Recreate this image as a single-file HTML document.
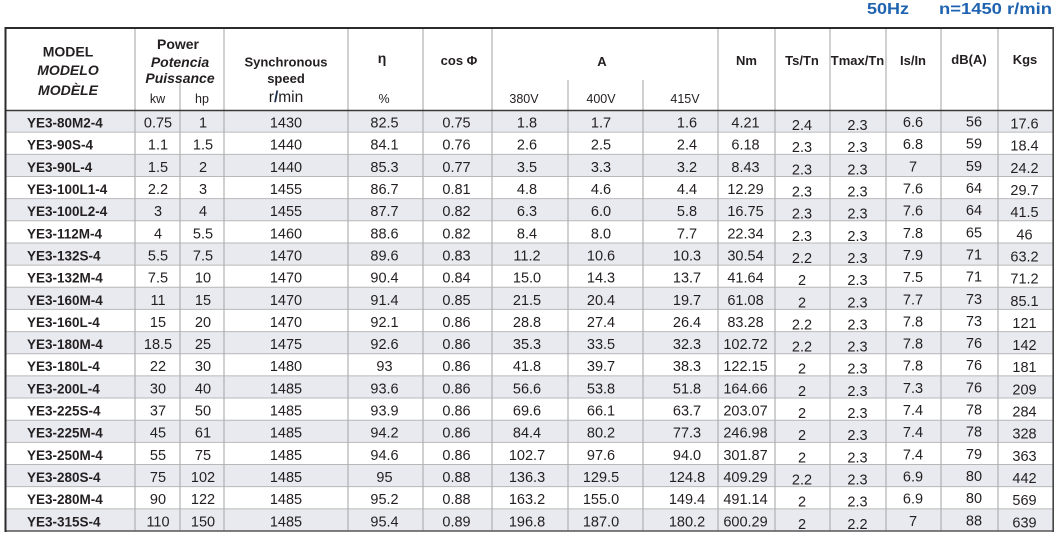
<!DOCTYPE html>
<html><head><meta charset="utf-8"><style>
html,body{margin:0;padding:0;background:#fff;}
svg{display:block;}
text{font-family:"Liberation Sans",sans-serif;fill:#231f20;}
.h{font-weight:bold;font-size:13px;text-anchor:middle;}
.hi{font-weight:bold;font-style:italic;font-size:14px;text-anchor:middle;}
.s{font-size:12.5px;text-anchor:middle;}
.d text{font-size:14.5px;text-anchor:middle;}
.d text.m{font-weight:bold;font-size:13.5px;text-anchor:start;}
.t{font-weight:bold;font-size:16px;fill:#1f63b0;}
</style></head><body>
<svg width="1064" height="540" viewBox="0 0 1064 540" xmlns="http://www.w3.org/2000/svg">
<rect width="1064" height="540" fill="#fff"/>
<text class="t" x="867" y="14" textLength="42" lengthAdjust="spacingAndGlyphs">50Hz</text>
<text class="t" x="939" y="14" textLength="113" lengthAdjust="spacingAndGlyphs">n=1450 r/min</text>

<!-- bands -->
<g fill="#e8eaf0">
<rect x="5" y="110" width="1048" height="22.16"/>
<rect x="5" y="154.32" width="1048" height="22.16"/>
<rect x="5" y="198.63" width="1048" height="22.16"/>
<rect x="5" y="242.95" width="1048" height="22.16"/>
<rect x="5" y="287.26" width="1048" height="22.16"/>
<rect x="5" y="331.58" width="1048" height="22.16"/>
<rect x="5" y="375.89" width="1048" height="22.16"/>
<rect x="5" y="420.21" width="1048" height="22.16"/>
<rect x="5" y="464.53" width="1048" height="22.16"/>
<rect x="5" y="508.84" width="1048" height="22.16"/>
</g>

<!-- row separators -->
<g stroke="#b8b8b8" stroke-width="1">
<line x1="5" x2="1053" y1="132.16" y2="132.16"/>
<line x1="5" x2="1053" y1="154.32" y2="154.32"/>
<line x1="5" x2="1053" y1="176.47" y2="176.47"/>
<line x1="5" x2="1053" y1="198.63" y2="198.63"/>
<line x1="5" x2="1053" y1="220.79" y2="220.79"/>
<line x1="5" x2="1053" y1="242.95" y2="242.95"/>
<line x1="5" x2="1053" y1="265.11" y2="265.11"/>
<line x1="5" x2="1053" y1="287.26" y2="287.26"/>
<line x1="5" x2="1053" y1="309.42" y2="309.42"/>
<line x1="5" x2="1053" y1="331.58" y2="331.58"/>
<line x1="5" x2="1053" y1="353.74" y2="353.74"/>
<line x1="5" x2="1053" y1="375.89" y2="375.89"/>
<line x1="5" x2="1053" y1="398.05" y2="398.05"/>
<line x1="5" x2="1053" y1="420.21" y2="420.21"/>
<line x1="5" x2="1053" y1="442.37" y2="442.37"/>
<line x1="5" x2="1053" y1="464.53" y2="464.53"/>
<line x1="5" x2="1053" y1="486.68" y2="486.68"/>
<line x1="5" x2="1053" y1="508.84" y2="508.84"/>
</g>

<!-- vertical lines -->
<g stroke="#b0b0b0" stroke-width="1.2">
<line x1="135" x2="135" y1="27" y2="531"/>
<line x1="224" x2="224" y1="27" y2="531"/>
<line x1="348" x2="348" y1="27" y2="531"/>
<line x1="423" x2="423" y1="27" y2="531"/>
<line x1="492" x2="492" y1="27" y2="531"/>
<line x1="718" x2="718" y1="27" y2="531"/>
<line x1="775" x2="775" y1="27" y2="531"/>
<line x1="830" x2="830" y1="27" y2="531"/>
<line x1="886" x2="886" y1="27" y2="531"/>
<line x1="941" x2="941" y1="27" y2="531"/>
<line x1="998" x2="998" y1="27" y2="531"/>
<line x1="180" x2="180" y1="82" y2="531"/>
<line x1="568" x2="568" y1="80" y2="531"/>
<line x1="643" x2="643" y1="80" y2="531"/>
</g>

<!-- borders -->
<line x1="5" x2="1054" y1="28" y2="28" stroke="#2b2b2b" stroke-width="2"/>
<line x1="5" x2="1054" y1="110.5" y2="110.5" stroke="#3a3a3a" stroke-width="1.5"/>
<line x1="5" x2="1054" y1="531" y2="531" stroke="#555" stroke-width="1.5"/>
<line x1="5.5" x2="5.5" y1="27" y2="532" stroke="#2b2b2b" stroke-width="2"/>
<line x1="1053.2" x2="1053.2" y1="27" y2="532" stroke="#444" stroke-width="1.6"/>

<!-- header -->
<text class="h" style="font-size:14px" x="68" y="56.5">MODEL</text>
<text class="hi" x="68" y="75">MODELO</text>
<text class="hi" x="68" y="95">MODÈLE</text>
<text class="h" style="font-size:14px" x="178" y="49">Power</text>
<text class="hi" x="180" y="67">Potencia</text>
<text class="hi" x="180" y="83">Puissance</text>
<text class="s" x="157.5" y="103">kw</text>
<text class="s" x="202" y="103">hp</text>
<text class="h" x="286" y="66.5">Synchronous</text>
<text class="h" x="286" y="83">speed</text>
<text x="286" y="102" style="font-size:15.5px;text-anchor:middle;">r<tspan style="fill:#1b2a4a;font-weight:bold">/</tspan>min</text>
<text class="h" style="font-size:14px" x="382" y="63">η</text>
<text class="h" x="459" y="65">cos Φ</text>
<text class="h" x="602" y="66">A</text>
<text class="s" x="384" y="103">%</text>
<text class="s" x="524" y="103">380V</text>
<text class="s" x="601" y="103">400V</text>
<text class="s" x="685" y="103">415V</text>
<text class="h" x="746.5" y="65">Nm</text>
<text class="h" x="802" y="65">Ts/Tn</text>
<text class="h" x="857.5" y="65">Tmax/Tn</text>
<text class="h" x="913" y="65">Is/In</text>
<text class="h" x="969" y="64">dB(A)</text>
<text class="h" x="1025" y="64">Kgs</text>

<!-- rows -->
<g class="d" transform="translate(0,110)">
<text class="m" x="27" y="17.5">YE3-80M2-4</text><text x="158" y="17.5">0.75</text><text x="203" y="17.5">1</text><text x="286" y="17.5">1430</text><text x="384.5" y="17.5">82.5</text><text x="456.5" y="17.5">0.75</text><text x="527" y="17.5">1.8</text><text x="601" y="17.5">1.7</text><text x="687" y="17.5">1.6</text><text x="745.5" y="17.5">4.21</text><text x="802" y="20">2.4</text><text x="857.5" y="20">2.3</text><text x="913" y="17">6.6</text><text x="974" y="16.5">56</text><text x="1024.5" y="18.5">17.6</text>
</g>
<g class="d" transform="translate(0,132.16)">
<text class="m" x="27" y="17.5">YE3-90S-4</text><text x="158" y="17.5">1.1</text><text x="203" y="17.5">1.5</text><text x="286" y="17.5">1440</text><text x="384.5" y="17.5">84.1</text><text x="456.5" y="17.5">0.76</text><text x="527" y="17.5">2.6</text><text x="601" y="17.5">2.5</text><text x="687" y="17.5">2.4</text><text x="745.5" y="17.5">6.18</text><text x="802" y="20">2.3</text><text x="857.5" y="20">2.3</text><text x="913" y="17">6.8</text><text x="974" y="16.5">59</text><text x="1024.5" y="18.5">18.4</text>
</g>
<g class="d" transform="translate(0,154.32)">
<text class="m" x="27" y="17.5">YE3-90L-4</text><text x="158" y="17.5">1.5</text><text x="203" y="17.5">2</text><text x="286" y="17.5">1440</text><text x="384.5" y="17.5">85.3</text><text x="456.5" y="17.5">0.77</text><text x="527" y="17.5">3.5</text><text x="601" y="17.5">3.3</text><text x="687" y="17.5">3.2</text><text x="745.5" y="17.5">8.43</text><text x="802" y="20">2.3</text><text x="857.5" y="20">2.3</text><text x="913" y="17">7</text><text x="974" y="16.5">59</text><text x="1024.5" y="18.5">24.2</text>
</g>
<g class="d" transform="translate(0,176.47)">
<text class="m" x="27" y="17.5">YE3-100L1-4</text><text x="158" y="17.5">2.2</text><text x="203" y="17.5">3</text><text x="286" y="17.5">1455</text><text x="384.5" y="17.5">86.7</text><text x="456.5" y="17.5">0.81</text><text x="527" y="17.5">4.8</text><text x="601" y="17.5">4.6</text><text x="687" y="17.5">4.4</text><text x="745.5" y="17.5">12.29</text><text x="802" y="20">2.3</text><text x="857.5" y="20">2.3</text><text x="913" y="17">7.6</text><text x="974" y="16.5">64</text><text x="1024.5" y="18.5">29.7</text>
</g>
<g class="d" transform="translate(0,198.63)">
<text class="m" x="27" y="17.5">YE3-100L2-4</text><text x="158" y="17.5">3</text><text x="203" y="17.5">4</text><text x="286" y="17.5">1455</text><text x="384.5" y="17.5">87.7</text><text x="456.5" y="17.5">0.82</text><text x="527" y="17.5">6.3</text><text x="601" y="17.5">6.0</text><text x="687" y="17.5">5.8</text><text x="745.5" y="17.5">16.75</text><text x="802" y="20">2.3</text><text x="857.5" y="20">2.3</text><text x="913" y="17">7.6</text><text x="974" y="16.5">64</text><text x="1024.5" y="18.5">41.5</text>
</g>
<g class="d" transform="translate(0,220.79)">
<text class="m" x="27" y="17.5">YE3-112M-4</text><text x="158" y="17.5">4</text><text x="203" y="17.5">5.5</text><text x="286" y="17.5">1460</text><text x="384.5" y="17.5">88.6</text><text x="456.5" y="17.5">0.82</text><text x="527" y="17.5">8.4</text><text x="601" y="17.5">8.0</text><text x="687" y="17.5">7.7</text><text x="745.5" y="17.5">22.34</text><text x="802" y="20">2.3</text><text x="857.5" y="20">2.3</text><text x="913" y="17">7.8</text><text x="974" y="16.5">65</text><text x="1024.5" y="18.5">46</text>
</g>
<g class="d" transform="translate(0,242.95)">
<text class="m" x="27" y="17.5">YE3-132S-4</text><text x="158" y="17.5">5.5</text><text x="203" y="17.5">7.5</text><text x="286" y="17.5">1470</text><text x="384.5" y="17.5">89.6</text><text x="456.5" y="17.5">0.83</text><text x="527" y="17.5">11.2</text><text x="601" y="17.5">10.6</text><text x="687" y="17.5">10.3</text><text x="745.5" y="17.5">30.54</text><text x="802" y="20">2.2</text><text x="857.5" y="20">2.3</text><text x="913" y="17">7.9</text><text x="974" y="16.5">71</text><text x="1024.5" y="18.5">63.2</text>
</g>
<g class="d" transform="translate(0,265.11)">
<text class="m" x="27" y="17.5">YE3-132M-4</text><text x="158" y="17.5">7.5</text><text x="203" y="17.5">10</text><text x="286" y="17.5">1470</text><text x="384.5" y="17.5">90.4</text><text x="456.5" y="17.5">0.84</text><text x="527" y="17.5">15.0</text><text x="601" y="17.5">14.3</text><text x="687" y="17.5">13.7</text><text x="745.5" y="17.5">41.64</text><text x="802" y="20">2</text><text x="857.5" y="20">2.3</text><text x="913" y="17">7.5</text><text x="974" y="16.5">71</text><text x="1024.5" y="18.5">71.2</text>
</g>
<g class="d" transform="translate(0,287.26)">
<text class="m" x="27" y="17.5">YE3-160M-4</text><text x="158" y="17.5">11</text><text x="203" y="17.5">15</text><text x="286" y="17.5">1470</text><text x="384.5" y="17.5">91.4</text><text x="456.5" y="17.5">0.85</text><text x="527" y="17.5">21.5</text><text x="601" y="17.5">20.4</text><text x="687" y="17.5">19.7</text><text x="745.5" y="17.5">61.08</text><text x="802" y="20">2</text><text x="857.5" y="20">2.3</text><text x="913" y="17">7.7</text><text x="974" y="16.5">73</text><text x="1024.5" y="18.5">85.1</text>
</g>
<g class="d" transform="translate(0,309.42)">
<text class="m" x="27" y="17.5">YE3-160L-4</text><text x="158" y="17.5">15</text><text x="203" y="17.5">20</text><text x="286" y="17.5">1470</text><text x="384.5" y="17.5">92.1</text><text x="456.5" y="17.5">0.86</text><text x="527" y="17.5">28.8</text><text x="601" y="17.5">27.4</text><text x="687" y="17.5">26.4</text><text x="745.5" y="17.5">83.28</text><text x="802" y="20">2.2</text><text x="857.5" y="20">2.3</text><text x="913" y="17">7.8</text><text x="974" y="16.5">73</text><text x="1024.5" y="18.5">121</text>
</g>
<g class="d" transform="translate(0,331.58)">
<text class="m" x="27" y="17.5">YE3-180M-4</text><text x="158" y="17.5">18.5</text><text x="203" y="17.5">25</text><text x="286" y="17.5">1475</text><text x="384.5" y="17.5">92.6</text><text x="456.5" y="17.5">0.86</text><text x="527" y="17.5">35.3</text><text x="601" y="17.5">33.5</text><text x="687" y="17.5">32.3</text><text x="745.5" y="17.5">102.72</text><text x="802" y="20">2.2</text><text x="857.5" y="20">2.3</text><text x="913" y="17">7.8</text><text x="974" y="16.5">76</text><text x="1024.5" y="18.5">142</text>
</g>
<g class="d" transform="translate(0,353.74)">
<text class="m" x="27" y="17.5">YE3-180L-4</text><text x="158" y="17.5">22</text><text x="203" y="17.5">30</text><text x="286" y="17.5">1480</text><text x="384.5" y="17.5">93</text><text x="456.5" y="17.5">0.86</text><text x="527" y="17.5">41.8</text><text x="601" y="17.5">39.7</text><text x="687" y="17.5">38.3</text><text x="745.5" y="17.5">122.15</text><text x="802" y="20">2</text><text x="857.5" y="20">2.3</text><text x="913" y="17">7.8</text><text x="974" y="16.5">76</text><text x="1024.5" y="18.5">181</text>
</g>
<g class="d" transform="translate(0,375.89)">
<text class="m" x="27" y="17.5">YE3-200L-4</text><text x="158" y="17.5">30</text><text x="203" y="17.5">40</text><text x="286" y="17.5">1485</text><text x="384.5" y="17.5">93.6</text><text x="456.5" y="17.5">0.86</text><text x="527" y="17.5">56.6</text><text x="601" y="17.5">53.8</text><text x="687" y="17.5">51.8</text><text x="745.5" y="17.5">164.66</text><text x="802" y="20">2</text><text x="857.5" y="20">2.3</text><text x="913" y="17">7.3</text><text x="974" y="16.5">76</text><text x="1024.5" y="18.5">209</text>
</g>
<g class="d" transform="translate(0,398.05)">
<text class="m" x="27" y="17.5">YE3-225S-4</text><text x="158" y="17.5">37</text><text x="203" y="17.5">50</text><text x="286" y="17.5">1485</text><text x="384.5" y="17.5">93.9</text><text x="456.5" y="17.5">0.86</text><text x="527" y="17.5">69.6</text><text x="601" y="17.5">66.1</text><text x="687" y="17.5">63.7</text><text x="745.5" y="17.5">203.07</text><text x="802" y="20">2</text><text x="857.5" y="20">2.3</text><text x="913" y="17">7.4</text><text x="974" y="16.5">78</text><text x="1024.5" y="18.5">284</text>
</g>
<g class="d" transform="translate(0,420.21)">
<text class="m" x="27" y="17.5">YE3-225M-4</text><text x="158" y="17.5">45</text><text x="203" y="17.5">61</text><text x="286" y="17.5">1485</text><text x="384.5" y="17.5">94.2</text><text x="456.5" y="17.5">0.86</text><text x="527" y="17.5">84.4</text><text x="601" y="17.5">80.2</text><text x="687" y="17.5">77.3</text><text x="745.5" y="17.5">246.98</text><text x="802" y="20">2</text><text x="857.5" y="20">2.3</text><text x="913" y="17">7.4</text><text x="974" y="16.5">78</text><text x="1024.5" y="18.5">328</text>
</g>
<g class="d" transform="translate(0,442.37)">
<text class="m" x="27" y="17.5">YE3-250M-4</text><text x="158" y="17.5">55</text><text x="203" y="17.5">75</text><text x="286" y="17.5">1485</text><text x="384.5" y="17.5">94.6</text><text x="456.5" y="17.5">0.86</text><text x="527" y="17.5">102.7</text><text x="601" y="17.5">97.6</text><text x="687" y="17.5">94.0</text><text x="745.5" y="17.5">301.87</text><text x="802" y="20">2</text><text x="857.5" y="20">2.3</text><text x="913" y="17">7.4</text><text x="974" y="16.5">79</text><text x="1024.5" y="18.5">363</text>
</g>
<g class="d" transform="translate(0,464.53)">
<text class="m" x="27" y="17.5">YE3-280S-4</text><text x="158" y="17.5">75</text><text x="203" y="17.5">102</text><text x="286" y="17.5">1485</text><text x="384.5" y="17.5">95</text><text x="456.5" y="17.5">0.88</text><text x="527" y="17.5">136.3</text><text x="601" y="17.5">129.5</text><text x="687" y="17.5">124.8</text><text x="745.5" y="17.5">409.29</text><text x="802" y="20">2.2</text><text x="857.5" y="20">2.3</text><text x="913" y="17">6.9</text><text x="974" y="16.5">80</text><text x="1024.5" y="18.5">442</text>
</g>
<g class="d" transform="translate(0,486.68)">
<text class="m" x="27" y="17.5">YE3-280M-4</text><text x="158" y="17.5">90</text><text x="203" y="17.5">122</text><text x="286" y="17.5">1485</text><text x="384.5" y="17.5">95.2</text><text x="456.5" y="17.5">0.88</text><text x="527" y="17.5">163.2</text><text x="601" y="17.5">155.0</text><text x="687" y="17.5">149.4</text><text x="745.5" y="17.5">491.14</text><text x="802" y="20">2</text><text x="857.5" y="20">2.3</text><text x="913" y="17">6.9</text><text x="974" y="16.5">80</text><text x="1024.5" y="18.5">569</text>
</g>
<g class="d" transform="translate(0,508.84)">
<text class="m" x="27" y="17.5">YE3-315S-4</text><text x="158" y="17.5">110</text><text x="203" y="17.5">150</text><text x="286" y="17.5">1485</text><text x="384.5" y="17.5">95.4</text><text x="456.5" y="17.5">0.89</text><text x="527" y="17.5">196.8</text><text x="601" y="17.5">187.0</text><text x="687" y="17.5">180.2</text><text x="745.5" y="17.5">600.29</text><text x="802" y="20">2</text><text x="857.5" y="20">2.2</text><text x="913" y="17">7</text><text x="974" y="16.5">88</text><text x="1024.5" y="18.5">639</text>
</g>
</svg>
</body></html>
